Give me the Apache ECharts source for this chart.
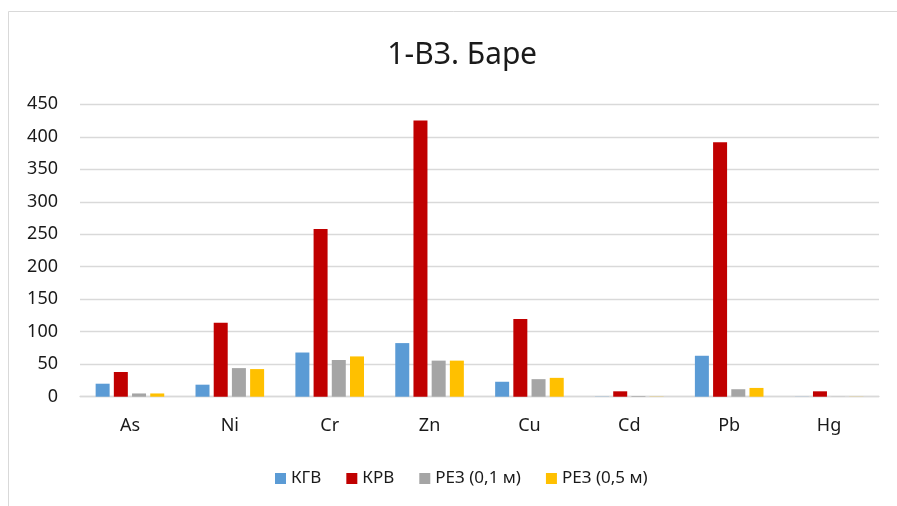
<!DOCTYPE html>
<html>
<head>
<meta charset="utf-8">
<script src="https://cdn.jsdelivr.net/npm/echarts@6/dist/echarts.min.js"></script>
<style>
  html, body { margin: 0; padding: 0; background: #fff; }
  #chart { width: 897px; height: 506px; }
</style>
</head>
<body>
<div id="chart"></div>
<script>
// data
const categories = ['As', 'Ni', 'Cr', 'Zn', 'Cu', 'Cd', 'Pb', 'Hg'];
const seriesNames = ['КГВ', 'КРВ', 'РЕЗ (0,1 м)', 'РЕЗ (0,5 м)'];
const kgv = [20, 18.5, 68, 82.5, 23, 0.3, 63, 0.2];
const krv = [38, 114, 258, 425, 119.5, 8.3, 391.5, 8.3];
const rez01 = [5, 44, 56.5, 55.5, 27, 1, 11.5, 0.2];
const rez05 = [5, 42.5, 62, 55.5, 29, 0.3, 13.5, 0.2];
const yTicks = [0, 50, 100, 150, 200, 250, 300, 350, 400, 450];

const colors = ['#5B9BD5', '#C00000', '#A5A5A5', '#FFC000'];
const font = 'Noto Sans';
const textColor = '#1a1a1a';

const chartDom = document.getElementById('chart');
let myChart = echarts.init(chartDom, null, { renderer: 'canvas' });

const allData = [kgv, krv, rez01, rez05];
let option = {
  animation: false,
  backgroundColor: '#fff',
  color: colors,
  title: {
    text: '1-ВЗ. Баре',
    left: 457,
    top: 35,
    textAlign: 'center',
    textStyle: { fontFamily: font, fontSize: 30, fontWeight: 'normal', color: textColor }
  },
  graphic: [{
    type: 'rect',
    shape: { x: 8.5, y: 11.5, width: 1000, height: 1000 },
    style: { fill: 'none', stroke: '#d9d9d9', lineWidth: 1 },
    silent: true
  }],
  legend: {
    left: 270,
    top: 465,
    itemWidth: 11,
    itemHeight: 11,
    itemGap: 25,
    icon: 'rect',
    data: seriesNames,
    textStyle: { fontFamily: font, fontSize: 17, color: textColor }
  },
  grid: { left: 80, right: 18, top: 104.3, bottom: 109.3, containLabel: false },
  xAxis: {
    type: 'category',
    data: categories,
    axisTick: { show: false },
    axisLine: { lineStyle: { color: '#d9d9d9', width: 1.3 } },
    axisLabel: { margin: 20, fontFamily: font, fontSize: 18, color: textColor }
  },
  yAxis: {
    type: 'value',
    min: yTicks[0],
    max: yTicks[yTicks.length - 1],
    interval: yTicks[1] - yTicks[0],
    axisLine: { show: false },
    axisTick: { show: false },
    splitLine: { lineStyle: { color: '#d9d9d9', width: 1.3 } },
    axisLabel: { margin: 22, fontFamily: font, fontSize: 18, color: textColor }
  },
  series: seriesNames.map((name, i) => ({
    name: name,
    type: 'bar',
    data: allData[i],
    barWidth: 14,
    barGap: '30%',
    itemStyle: { color: colors[i] }
  }))
};
option && myChart.setOption(option);
</script>
</body>
</html>
